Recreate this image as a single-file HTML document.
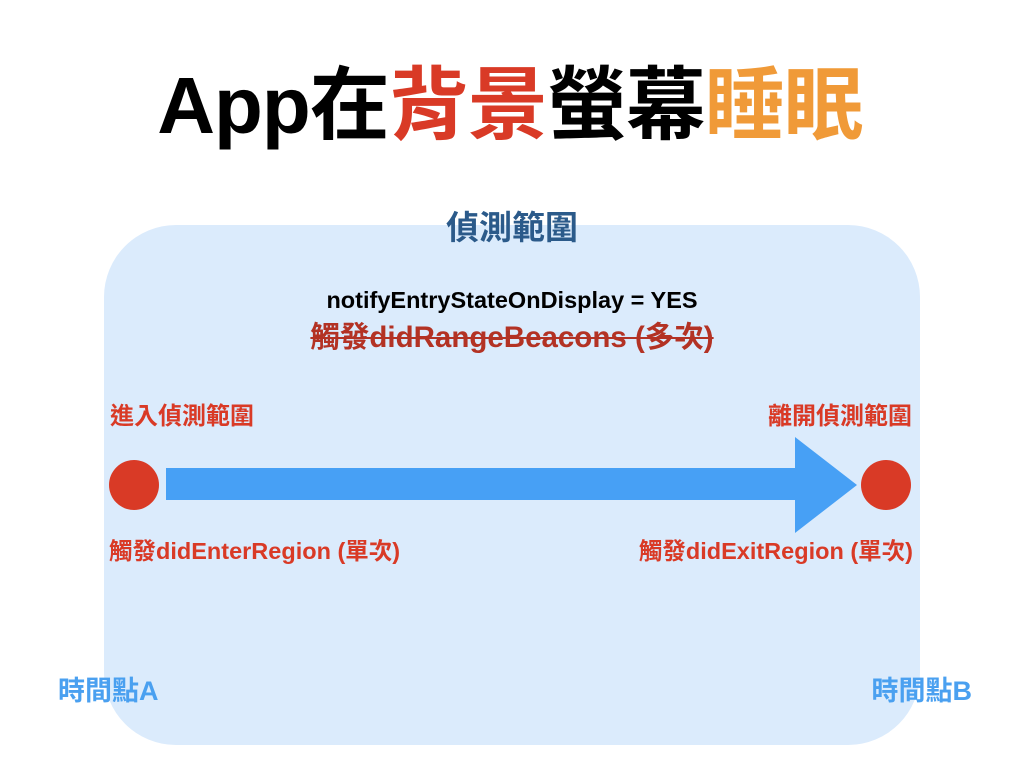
<!DOCTYPE html>
<html><head><meta charset="utf-8"><style>
body{margin:0;width:1024px;height:768px;background:#fff;position:relative;overflow:hidden;font-family:"Liberation Sans","Noto Sans CJK TC",sans-serif;font-weight:bold}
.t{position:absolute;white-space:nowrap;line-height:1}
</style></head><body>
<div class="t" style="left:0;width:1020px;text-align:center;top:66px;font-size:80px;color:#000;font-weight:bold;letter-spacing:-1px">App在<span style="color:#d93a26">背景</span>螢幕<span style="color:#f09a38">睡眠</span></div>
<div style="position:absolute;left:104px;top:225px;width:816px;height:520px;border-radius:72px;background:#dbebfc"></div>
<div class="t" style="left:0;width:1024px;text-align:center;top:211px;font-size:33px;color:#2b5a8a">偵測範圍</div>
<div class="t" style="left:0;width:1024px;text-align:center;top:289px;font-size:23.5px;color:#000">notifyEntryStateOnDisplay = YES</div>
<div class="t" style="left:0;width:1024px;text-align:center;top:323px;font-size:29.5px;color:#b33224;text-decoration:line-through">觸發didRangeBeacons (多次)</div>
<div class="t" style="left:110px;top:405px;font-size:24px;color:#d93a26">進入偵測範圍</div>
<div class="t" style="right:112px;top:405px;font-size:24px;color:#d93a26">離開偵測範圍</div>
<div class="t" style="left:109px;top:540px;font-size:23.5px;color:#d93a26">觸發didEnterRegion (單次)</div>
<div class="t" style="right:111px;top:540px;font-size:23.5px;color:#d93a26">觸發didExitRegion (單次)</div>
<div class="t" style="left:58px;top:678px;font-size:27px;color:#4aa0f0">時間點A</div>
<div class="t" style="right:52px;top:678px;font-size:27px;color:#4aa0f0">時間點B</div>
<svg style="position:absolute;left:0;top:0" width="1024" height="768">
<polygon points="166,468 795,468 795,437 857,485 795,533 795,500 166,500" fill="#47a0f5"/>
<ellipse cx="134" cy="485" rx="25" ry="25" fill="#d93a26"/>
<ellipse cx="886" cy="485" rx="25" ry="25" fill="#d93a26"/>
</svg>
</body></html>
